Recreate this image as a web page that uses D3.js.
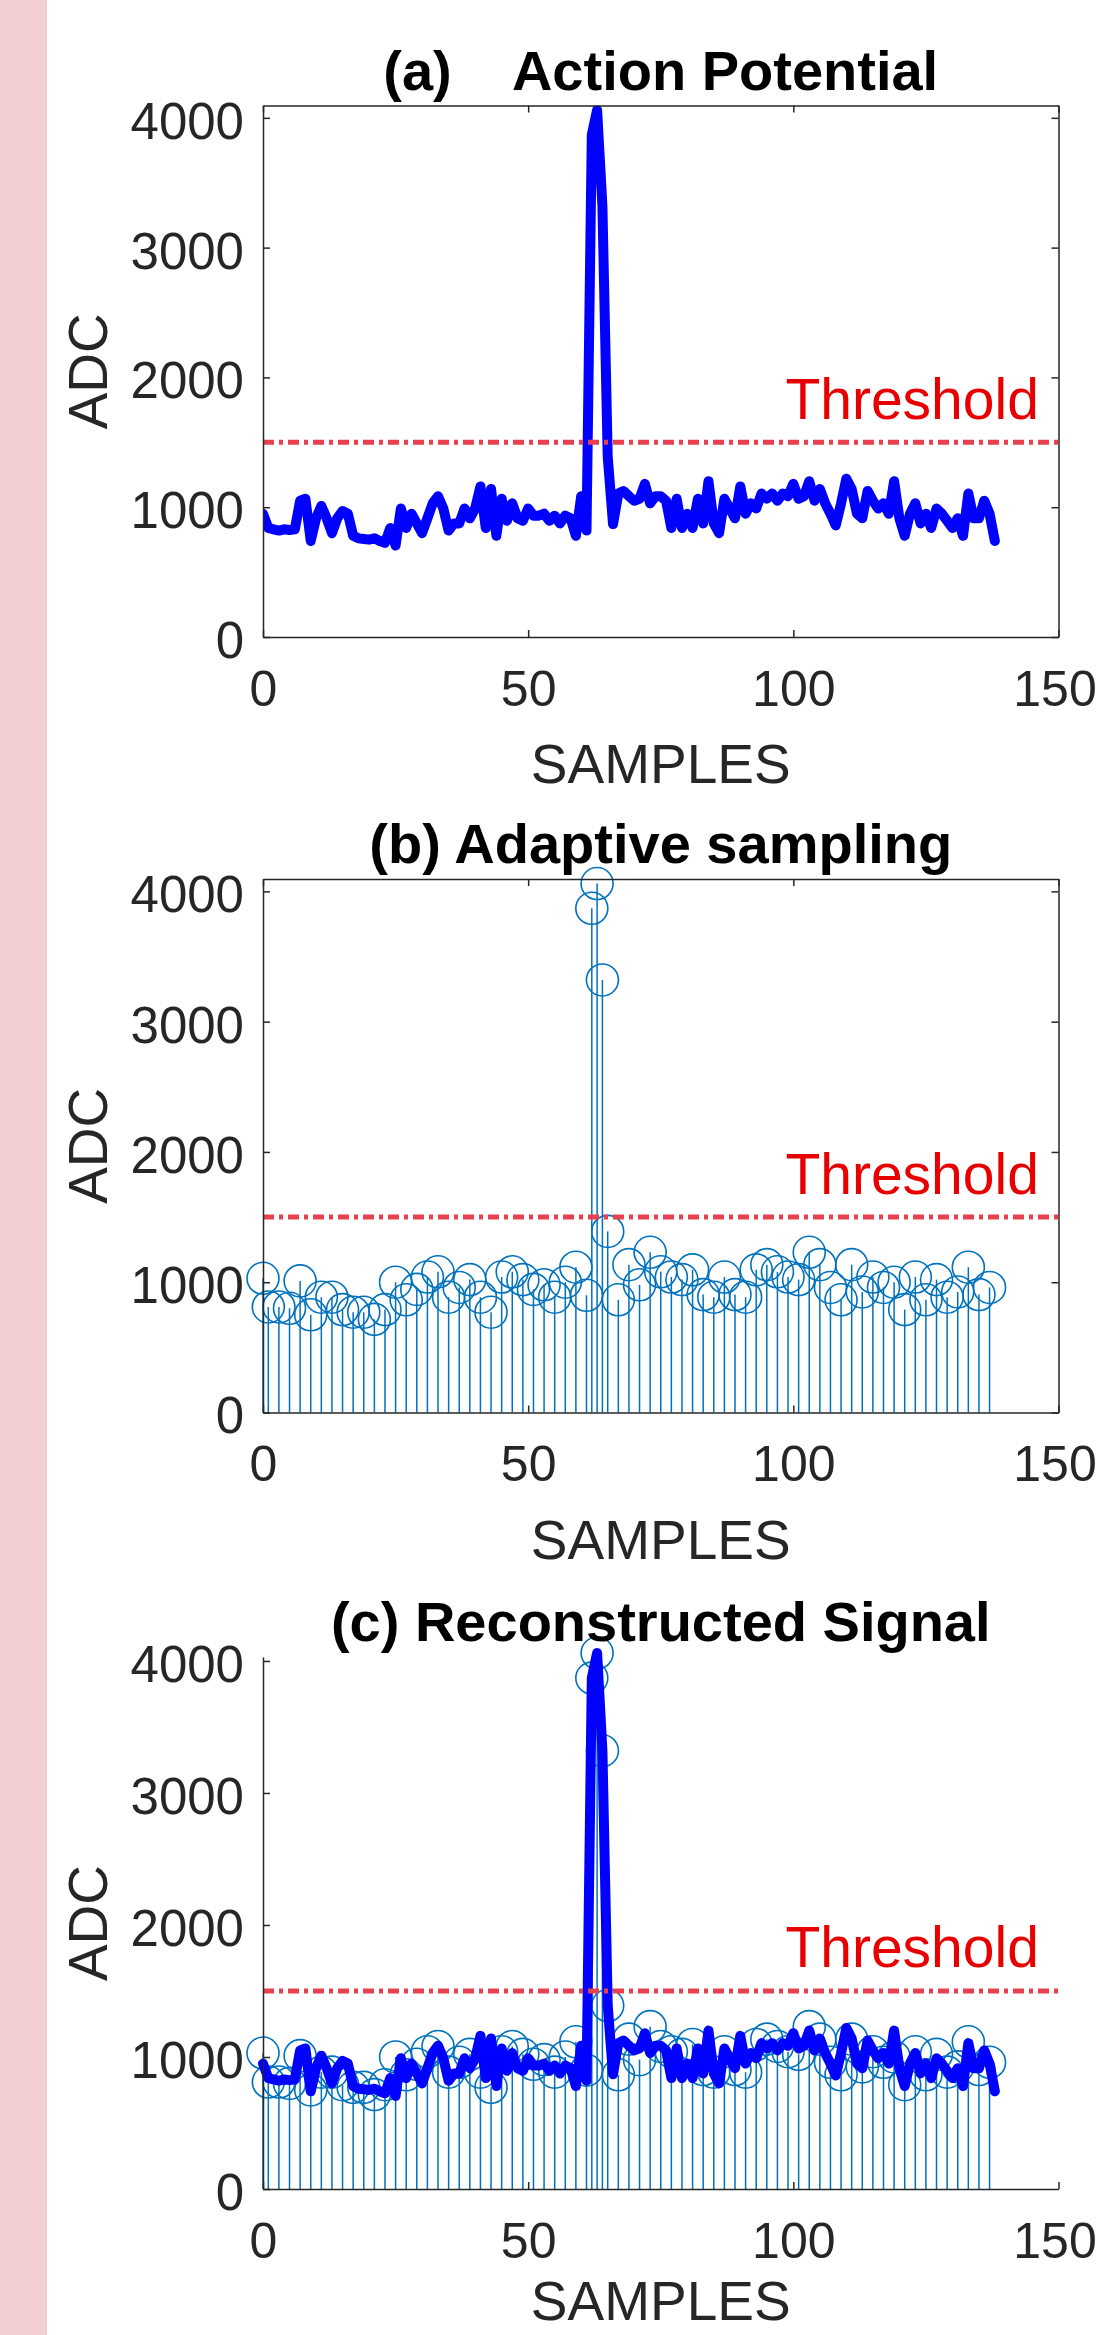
<!DOCTYPE html>
<html>
<head>
<meta charset="utf-8">
<script src="https://cdn.jsdelivr.net/npm/d3@7"></script>
<style>
  body { margin: 0; background: #fff; }
  svg { display: block; }
</style>
</head>
<body>
<svg width="1097" height="2335"></svg>
<script>
(function (d3) {

  // ADC trace, one value per sample (x = index)
  const adcValues = [
    950, 840, 830, 820, 830, 825, 830, 1050, 1065, 740,
    915, 1010, 915, 800, 915, 970, 950, 780, 760, 755,
    750, 760, 740, 725, 840, 705, 990, 840, 950, 875,
    800, 915, 1030, 1085, 990, 820, 875, 875, 990, 915,
    990, 1160, 840, 1140, 780, 1065, 895, 1030, 915, 895,
    990, 935, 935, 950, 895, 935, 875, 935, 915, 780,
    1085, 820, 3870, 4060, 3320, 1390, 870, 1105, 1125, 1085,
    1050, 1065, 1180, 1030, 1085, 1085, 1050, 840, 1065, 840,
    950, 840, 1065, 875, 1200, 875, 800, 1065, 990, 915,
    1160, 950, 1030, 990, 1105, 1065, 1105, 1050, 1105, 1085,
    1180, 1065, 1085, 1200, 1050, 1140, 1030, 950, 860, 1030,
    1220, 1140, 950, 915, 1125, 1050, 990, 1030, 950, 1200,
    915, 780, 950, 1030, 875, 950, 840, 990, 950, 895,
    840, 915, 780, 1105, 915, 915, 1050, 950, 740
  ];

  // adaptive samples (stem plot)
  const stemIdx = [
    0, 1, 3, 5, 7, 9, 11, 13, 15, 17, 19, 21, 23, 25, 27, 29, 31, 33, 35, 37,
    39, 41, 43, 45, 47, 49, 51, 53, 55, 57, 59, 61, 62, 63, 64, 65, 67, 69, 71, 73,
    75, 77, 79, 81, 83, 85, 87, 89, 91, 93, 95, 97, 99, 101, 103, 105, 107, 109, 111, 113,
    115, 117, 119, 121, 123, 125, 127, 129, 131, 133, 135, 137
  ];
  const stemValues = [
    1030, 810, 810, 800, 1010, 750, 885, 885, 790, 770, 770, 715, 790, 1000, 865, 945, 1040, 1080, 885, 960,
    1020, 885, 770, 1040, 1080, 1020, 945, 980, 885, 1000, 1115, 900, 3870, 4060, 3320, 1390, 865, 1135, 980, 1230,
    1080, 1040, 1020, 1095, 905, 885, 1040, 905, 885, 1095, 1135, 1080, 1040, 1020, 1230, 1135, 960, 865, 1135, 925,
    1040, 960, 1000, 790, 1040, 865, 1020, 885, 925, 1115, 905, 960
  ];

  const xTicks = [0, 50, 100, 150];
  const yTicks = [0, 1000, 2000, 3000, 4000];
  const threshold = 1500;

  const panels = [
    { title: '(a)    Action Potential', top: 105.5, bottom: 637, ymax: 4095, box: true, line: true, stems: false },
    { title: '(b) Adaptive sampling', top: 879, bottom: 1412.5, ymax: 4095, box: true, line: false, stems: true },
    { title: '(c) Reconstructed Signal', top: 1657, bottom: 2189, ymax: 4030, box: false, line: true, stems: true }
  ];

  const left = 263, right = 1058.5;
  const axisColor = '#262626';
  const stemColor = '#0072bd';
  const font = 'Liberation Sans, Arial, sans-serif';

  const svg = d3.select('svg');

  // pink strip on the left edge
  svg.append('rect')
    .attr('x', 0).attr('y', 0)
    .attr('width', 47).attr('height', 2335)
    .attr('fill', '#f2cfd1');

  const xScale = d3.scaleLinear().domain([0, 150]).range([left, right]);

  const styleAxis = (g, size) => {
    g.selectAll('.domain').attr('stroke', axisColor).attr('stroke-width', 1.5);
    g.selectAll('.tick line').attr('stroke', axisColor).attr('stroke-width', 1.5);
    g.selectAll('.tick text')
      .attr('fill', axisColor)
      .style('font-family', font)
      .style('font-size', size + 'px');
  };

  panels.forEach((p, k) => {
    const yScale = d3.scaleLinear().domain([0, p.ymax]).range([p.bottom, p.top]);
    const g = svg.append('g').attr('class', 'panel-' + k);

    const clipId = 'clip-' + k;
    g.append('clipPath').attr('id', clipId)
      .append('rect')
        .attr('x', left).attr('y', p.top)
        .attr('width', right - left).attr('height', p.bottom - p.top);

    if (p.stems) {
      const stems = stemIdx.map((s, i) => ({ x: s, y: stemValues[i] }));
      g.append('g').selectAll('line').data(stems)
        .enter().append('line')
          .attr('x1', d => xScale(d.x)).attr('x2', d => xScale(d.x))
          .attr('y1', yScale(0)).attr('y2', d => yScale(d.y))
          .attr('stroke', stemColor).attr('stroke-width', 1.5);
      g.append('g').selectAll('circle').data(stems)
        .enter().append('circle')
          .attr('cx', d => xScale(d.x))
          .attr('cy', d => yScale(d.y))
          .attr('r', 16)
          .attr('fill', 'none')
          .attr('stroke', stemColor).attr('stroke-width', 1.6);
    }

    if (p.line) {
      const line = d3.line()
        .x((d, i) => xScale(i))
        .y(d => yScale(d));
      g.append('path')
        .datum(adcValues)
        .attr('clip-path', k === 0 ? `url(#${clipId})` : null)
        .attr('d', line)
        .attr('fill', 'none')
        .attr('stroke', '#0000ff')
        .attr('stroke-width', 10)
        .attr('stroke-linejoin', 'round')
        .attr('stroke-linecap', 'round');
    }

    // threshold
    g.append('line')
      .attr('x1', left).attr('x2', right)
      .attr('y1', yScale(threshold)).attr('y2', yScale(threshold))
      .attr('stroke', '#e8404f')
      .attr('stroke-width', 5)
      .attr('stroke-dasharray', '11,5,4,5');

    g.append('text')
      .attr('x', xScale(98.5))
      .attr('y', yScale(1680))
      .attr('fill', '#e80000')
      .style('font-family', font)
      .style('font-size', '57px')
      .text('Threshold');

    // axes
    const xAxisG = g.append('g')
      .attr('transform', `translate(0,${p.bottom})`)
      .call(d3.axisBottom(xScale).tickValues(xTicks).tickFormat(d3.format('d'))
        .tickSizeInner(-7).tickSizeOuter(0).tickPadding(33));
    styleAxis(xAxisG, 50);
    xAxisG.selectAll('.tick text').filter(d => d === 150).attr('dx', -4);

    const yAxisG = g.append('g')
      .attr('transform', `translate(${left},0)`)
      .call(d3.axisLeft(yScale).tickValues(yTicks).tickFormat(d3.format('d'))
        .tickSizeInner(-7).tickSizeOuter(0).tickPadding(19));
    styleAxis(yAxisG, 51);
    yAxisG.selectAll('.tick text').attr('dy', '0.4em');

    if (p.box) {
      const topG = g.append('g')
        .attr('transform', `translate(0,${p.top})`)
        .call(d3.axisTop(xScale).tickValues(xTicks).tickSizeInner(-7).tickSizeOuter(0).tickFormat(''));
      styleAxis(topG, 51);
      const rightG = g.append('g')
        .attr('transform', `translate(${right},0)`)
        .call(d3.axisRight(yScale).tickValues(yTicks).tickSizeInner(-7).tickSizeOuter(0).tickFormat(''));
      styleAxis(rightG, 51);
    }

    // labels
    g.append('text')
      .attr('x', (left + right) / 2)
      .attr('y', p.top - 16)
      .attr('text-anchor', 'middle')
      .attr('fill', '#000')
      .style('white-space', 'pre')
      .style('font-family', font)
      .style('font-weight', 'bold')
      .style('font-size', '56px')
      .text(p.title);

    g.append('text')
      .attr('x', (left + right) / 2)
      .attr('y', Math.min(p.bottom + 146, 2320))
      .attr('text-anchor', 'middle')
      .attr('fill', axisColor)
      .style('font-family', font)
      .style('font-size', '55px')
      .text('SAMPLES');

    g.append('text')
      .attr('transform', `translate(107,${(p.top + p.bottom) / 2}) rotate(-90)`)
      .attr('text-anchor', 'middle')
      .attr('fill', axisColor)
      .style('font-family', font)
      .style('font-size', '55px')
      .text('ADC');
  });

}(d3));
</script>
</body>
</html>
